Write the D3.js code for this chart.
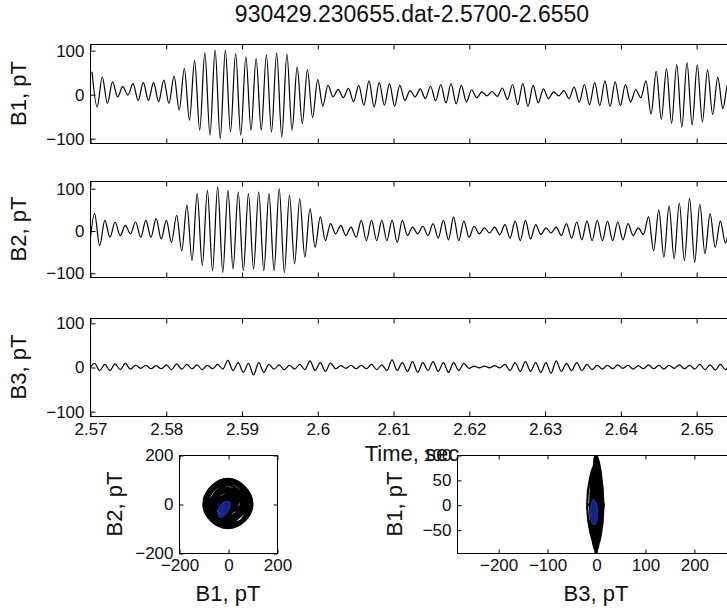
<!DOCTYPE html>
<html>
<head>
<meta charset="utf-8">
<script src="https://cdn.jsdelivr.net/npm/d3@7"></script>
<style>
  body { margin: 0; background: #fff; }
  svg { display: block; font-family: "Liberation Sans", Arial, sans-serif; }
</style>
</head>
<body>
<svg id="fig" width="727" height="610"></svg>
<script>
// ---- data -------------------------------------------------------------
const figTitle = "930429.230655.dat-2.5700-2.6550";
const timeRange = [2.57, 2.655];
const timeTicks = [2.57, 2.58, 2.59, 2.60, 2.61, 2.62, 2.63, 2.64, 2.65];
const timeTickLabels = ["2.57", "2.58", "2.59", "2.6", "2.61", "2.62", "2.63", "2.64", "2.65"];
const fieldTicks = [-100, 0, 100];
const hodoTicksB1B2 = [-200, 0, 200];
const hodoTicksB3 = [-200, -100, 0, 100, 200];
const hodoTicksB1 = [-50, 0, 50, 100];

// Successive turning points (peak, trough, peak, ...) of each field
// component, in pT, one every half wave period.
const halfPeriod = 0.000677;
const b1Start = 2.570264;
const b1Turns = [
  51, -29, 39, -21, 28, -6, 17, -2, 24, -14,
  26, -14, 26, -17, 32, -21, 41, -36, 58, -59,
  77, -82, 94, -93, 100, -101, 100, -86, 92, -93,
  85, -82, 81, -82, 89, -86, 94, -97, 91, -82,
  62, -67, 56, -53, 33, -27, 20, -6, 11, -8,
  13, -17, 20, -25, 30, -29, 26, -25, 24, -27,
  20, -14, 8, -6, 12, -10, 18, -15, 22, -20,
  24, -22, 20, -18, 10, -8, 5, -4, 6, -5,
  14, -12, 22, -24, 24, -28, 20, -20, 12, -10,
  5, -4, 8, -10, 16, -18, 22, -24, 26, -26,
  30, -28, 28, -26, 22, -18, 10, -8, 30, -45,
  52, -57, 58, -66, 67, -75, 72, -70, 66, -63,
  55, -46, 38, -33, 25, -20
];
// B2 turns a quarter period after B1
const b2Start = b1Start - halfPeriod / 2;
const b2Turns = [
  -40, 40, -36, 24, -16, 20, -12, 12, -8, 20,
  -16, 24, -16, 28, -20, 24, -28, 36, -48, 60,
  -71, 87, -83, 95, -95, 103, -99, 95, -91, 91,
  -95, 87, -91, 91, -95, 87, -95, 99, -99, 83,
  -79, 75, -63, 52, -40, 32, -24, 16, -8, 12,
  -12, 8, -16, 24, -24, 24, -24, 24, -24, 24,
  -28, 24, -12, 8, -8, 10, -12, 16, -18, 24,
  -22, 32, -24, 22, -16, 10, -8, 6, -6, 8,
  -10, 14, -18, 22, -24, 24, -20, 14, -10, 6,
  -6, 8, -12, 16, -18, 20, -22, 22, -24, 24,
  -24, 22, -24, 20, -22, 16, -12, 6, -10, 32,
  -48, 48, -63, 58, -67, 65, -71, 76, -75, 62,
  -55, 40, -40, 22, -30, 15, -20
];
const b3Start = b2Start;
const b3Turns = [
  -4, 8, -8, 6, -8, 7, -6, 8, -5, 4,
  -3, 4, -4, 3, -4, 5, -6, 7, -5, 6,
  -4, 5, -6, 4, -4, 6, -5, 15, -8, 10,
  -12, 8, -18, 10, -12, 6, -5, 5, -6, 4,
  -5, 6, -6, 14, -8, 10, -10, 9, -4, 3,
  -3, 4, -4, 4, -4, 6, -6, 5, -8, 16,
  -8, 10, -10, 12, -12, 10, -8, 12, -10, 10,
  -12, 10, -8, 8, -3, 2, -2, 2, -2, 3,
  -2, 6, -8, 10, -10, 12, -10, 10, -12, 10,
  -14, 14, -10, 8, -8, 10, -8, 6, -6, 4,
  -5, 4, -4, 5, -3, 4, -5, 3, -4, 5,
  -4, 4, -5, 4, -3, 5, -4, 4, -5, 6,
  -6, 5, -7, 6, -6, 5, -4
];

// Highlighted short stretch drawn in blue on both hodograms (pT)
const markB1 = [0, -20, -36, -40, -30, -14, 4, 10, 0];
const markB2 = [10, 5, -15, -42, -55, -45, -20, 2, 10];
const markB3 = [-10, -11, -8, -3, 2, 3, 0, -6, -10];

// ---- drawing ----------------------------------------------------------
const svg = d3.select("#fig");
const INK = "#111";
const tickFont = 17, labelFont = 22;

const x = d3.scaleLinear().domain(timeRange).range([90, 734]);

const panels = [
  { label: "B1, pT", turns: b1Turns, start: b1Start, top: 44,  bottom: 143, lim: [-111, 114] },
  { label: "B2, pT", turns: b2Turns, start: b2Start, top: 181, bottom: 277, lim: [-110, 117] },
  { label: "B3, pT", turns: b3Turns, start: b3Start, top: 318, bottom: 416, lim: [-111, 111] }
];

svg.append("text")
  .attr("x", 412).attr("y", 22)
  .attr("text-anchor", "middle")
  .attr("font-size", 23)
  .attr("fill", INK)
  .text(figTitle);

function styleAxis(g) {
  g.select(".domain").remove();
  g.selectAll(".tick line").attr("stroke", "#000").attr("stroke-width", 1);
  g.selectAll(".tick text").attr("font-size", tickFont).attr("fill", INK)
    .attr("font-family", "Liberation Sans, Arial, sans-serif");
}

panels.forEach((p, idx) => {
  const y = d3.scaleLinear().domain(p.lim).range([p.bottom, p.top]);
  const id = "clip" + idx;
  svg.append("clipPath").attr("id", id)
    .append("rect").attr("x", x.range()[0]).attr("y", p.top)
    .attr("width", x.range()[1] - x.range()[0]).attr("height", p.bottom - p.top);

  const line = d3.line()
    .x((d, i) => x(p.start + i * halfPeriod))
    .y(d => y(d))
    .curve(d3.curveMonotoneX);

  svg.append("path")
    .datum(p.turns)
    .attr("clip-path", `url(#${id})`)
    .attr("fill", "none")
    .attr("stroke", "#000")
    .attr("stroke-width", 1.2)
    .attr("stroke-linejoin", "round")
    .attr("d", line);

  // box
  svg.append("rect")
    .attr("x", x.range()[0] + 0.5).attr("y", p.top + 0.5)
    .attr("width", x.range()[1] - x.range()[0]).attr("height", p.bottom - p.top)
    .attr("fill", "none").attr("stroke", "#000").attr("stroke-width", 1);

  // inward ticks
  const bottom = d3.axisBottom(x).tickValues(timeTicks).tickSize(-5).tickPadding(6)
    .tickFormat((d, i) => idx === 2 ? timeTickLabels[i] : "");
  svg.append("g").attr("transform", `translate(0.5,${p.bottom + 0.5})`).call(bottom).call(styleAxis);
  const topAx = d3.axisTop(x).tickValues(timeTicks).tickSize(-5).tickFormat("");
  svg.append("g").attr("transform", `translate(0.5,${p.top + 0.5})`).call(topAx).call(styleAxis);
  const left = d3.axisLeft(y).tickValues(fieldTicks).tickSize(-5).tickPadding(6);
  svg.append("g").attr("transform", `translate(${x.range()[0] + 0.5},0.5)`).call(left).call(styleAxis);

  svg.append("text")
    .attr("transform", `translate(26,${(p.top + p.bottom) / 2}) rotate(-90)`)
    .attr("text-anchor", "middle")
    .attr("font-size", labelFont).attr("fill", INK)
    .text(p.label);
});

svg.append("text")
  .attr("x", 412).attr("y", 461)
  .attr("text-anchor", "middle")
  .attr("font-size", labelFont).attr("fill", INK)
  .text("Time, sec");

// ---- hodograms --------------------------------------------------------
// Each component's turning point falls on the other's zero crossing
// (quadrature), so the trace alternates between axis crossings.
function hodoPoints(hTurns, hStart, vTurns, vStart) {
  const pts = [];
  hTurns.forEach((v, i) => pts.push({ t: hStart + i * halfPeriod, h: v, v: 0 }));
  vTurns.forEach((v, i) => pts.push({ t: vStart + i * halfPeriod, h: 0, v: v }));
  return pts.sort((a, b) => a.t - b.t);
}

function hodogram(cfg) {
  const hx = d3.scaleLinear().domain(cfg.xlim).range([cfg.left, cfg.right]);
  const hy = d3.scaleLinear().domain(cfg.ylim).range([cfg.bottom, cfg.top]);
  const id = cfg.id;
  svg.append("clipPath").attr("id", id)
    .append("rect").attr("x", cfg.left).attr("y", cfg.top)
    .attr("width", cfg.right - cfg.left).attr("height", cfg.bottom - cfg.top);

  const line = d3.line().x(d => hx(d.h)).y(d => hy(d.v)).curve(d3.curveNatural);
  svg.append("path").datum(cfg.points)
    .attr("clip-path", `url(#${id})`)
    .attr("fill", "none").attr("stroke", "#000").attr("stroke-width", cfg.lineWidth)
    .attr("d", line);

  const mark = d3.line().x(d => hx(d[0])).y(d => hy(d[1])).curve(d3.curveCatmullRomClosed.alpha(0.5));
  svg.append("path").datum(cfg.mark)
    .attr("clip-path", `url(#${id})`)
    .attr("fill", "#1a2a9a").attr("fill-opacity", 0.85)
    .attr("stroke", "#1a2a9a").attr("stroke-width", 1.5)
    .attr("d", mark);

  svg.append("rect")
    .attr("x", cfg.left + 0.5).attr("y", cfg.top + 0.5)
    .attr("width", cfg.right - cfg.left).attr("height", cfg.bottom - cfg.top)
    .attr("fill", "none").attr("stroke", "#000").attr("stroke-width", 1);

  svg.append("g").attr("transform", `translate(0.5,${cfg.bottom + 0.5})`)
    .call(d3.axisBottom(hx).tickValues(cfg.xticks).tickSize(-4).tickPadding(5)).call(styleAxis);
  svg.append("g").attr("transform", `translate(0.5,${cfg.top + 0.5})`)
    .call(d3.axisTop(hx).tickValues(cfg.xticks).tickSize(-4).tickFormat("")).call(styleAxis);
  svg.append("g").attr("transform", `translate(${cfg.left + 0.5},0.5)`)
    .call(d3.axisLeft(hy).tickValues(cfg.yticks).tickSize(-4).tickPadding(6)).call(styleAxis);
  svg.append("g").attr("transform", `translate(${cfg.right + 0.5},0.5)`)
    .call(d3.axisRight(hy).tickValues(cfg.yticks).tickSize(-4).tickFormat("")).call(styleAxis);

  svg.append("text")
    .attr("x", (cfg.left + Math.min(cfg.right, 735)) / 2).attr("y", 601)
    .attr("text-anchor", "middle").attr("font-size", labelFont).attr("fill", INK)
    .text(cfg.xlabel);
  svg.append("text")
    .attr("transform", `translate(${cfg.ylabelX},${(cfg.top + cfg.bottom) / 2}) rotate(-90)`)
    .attr("text-anchor", "middle").attr("font-size", labelFont).attr("fill", INK)
    .text(cfg.ylabel);
}

hodogram({
  id: "hodo12", left: 179, right: 277, top: 455, bottom: 553,
  xlim: [-200, 200], ylim: [-200, 200],
  xticks: hodoTicksB1B2, yticks: hodoTicksB1B2,
  points: hodoPoints(b1Turns, b1Start, b2Turns, b2Start),
  mark: markB1.map((v, i) => [v, markB2[i]]),
  lineWidth: 2.0,
  xlabel: "B1, pT", ylabel: "B2, pT", ylabelX: 122
});

hodogram({
  id: "hodo31", left: 457, right: 735, top: 455, bottom: 553,
  xlim: [-284, 284], ylim: [-97, 100],
  xticks: hodoTicksB3, yticks: hodoTicksB1,
  points: hodoPoints(b3Turns, b3Start, b1Turns, b1Start),
  mark: markB3.map((v, i) => [v, markB1[i]]),
  lineWidth: 2.2,
  xlabel: "B3, pT", ylabel: "B1, pT", ylabelX: 402
});
</script>
</body>
</html>
